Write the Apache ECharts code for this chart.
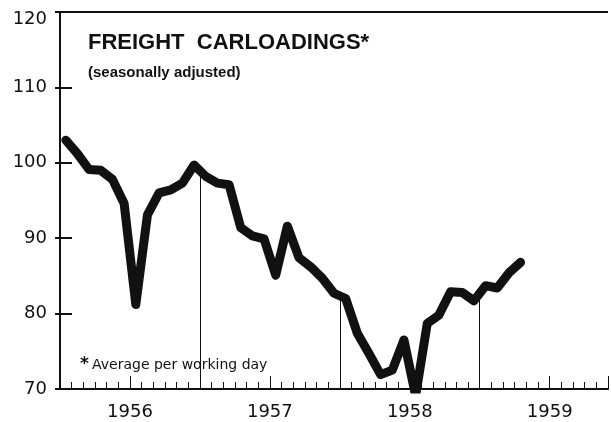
<!DOCTYPE html>
<html>
<head>
<meta charset="utf-8">
<script src="https://cdn.jsdelivr.net/npm/echarts@6/dist/echarts.min.js"></script>
<style>
  html, body { margin: 0; padding: 0; background: #fff; }
  #chart { width: 611px; height: 422px; }
</style>
</head>
<body>
<div id="chart"></div>
<script>
// monthly values, starting January 1956 (seasonally adjusted)
const years = ['1956', '1957', '1958', '1959'];
const carloadings = [
  103.0, 101.2, 99.1, 99.0, 97.8, 94.6, 81.2, 93.1, 96.0, 96.4, 97.3, 99.7,
  98.2, 97.3, 97.1, 91.4, 90.3, 89.9, 85.1, 91.6, 87.4, 86.2, 84.7, 82.7,
  82.0, 77.4, 74.7, 71.9, 72.5, 76.5, 69.1, 78.7, 79.8, 82.9, 82.8, 81.7,
  83.7, 83.4, 85.4, 86.8
];
const yMin = 70;
const yMax = 120;

const chart = echarts.init(document.getElementById('chart'));

const points = carloadings.map((v, i) => [i + 0.5, v]);

// thin vertical lines at each year end, from the base up to the curve
const yearEnds = [];
for (let m = 12; m < carloadings.length; m += 12) {
  const v = (carloadings[m - 1] + carloadings[m]) / 2;
  yearEnds.push([{ coord: [m, yMin] }, { coord: [m, v] }]);
}

const labelFont = 'DejaVu Sans';

const option = {
  animation: false,
  backgroundColor: '#fff',
  grid: { left: 60, right: 0, top: 12, bottom: 33 },
  graphic: [
    {
      type: 'text', left: 88, top: 32,
      style: { text: 'FREIGHT  CARLOADINGS*', font: 'bold 22px "Liberation Sans"', fill: '#111' }
    },
    {
      type: 'text', left: 88, top: 65,
      style: { text: '(seasonally adjusted)', font: 'bold 15px "Liberation Sans"', fill: '#111' }
    },
    {
      type: 'text', left: 80, top: 356,
      style: { text: '*', font: 'bold 17px "DejaVu Sans"', fill: '#111' }
    },
    {
      type: 'text', left: 92, top: 358,
      style: { text: 'Average per working day', font: '14px "DejaVu Sans"', fill: '#111' }
    }
  ],
  xAxis: [
    {
      type: 'value', min: 0, max: 47, interval: 1,
      axisLine: { show: true, lineStyle: { color: '#111', width: 2 } },
      axisTick: { show: true, inside: true, length: 7, lineStyle: { color: '#111', width: 1 } },
      axisLabel: { show: false },
      splitLine: { show: false }
    },
    {
      type: 'value', min: 0, max: 47, interval: 6, position: 'bottom',
      axisLine: { show: false },
      axisTick: { show: true, inside: true, length: 13, lineStyle: { color: '#111', width: 1 } },
      axisLabel: {
        margin: 14,
        fontFamily: labelFont, fontSize: 18, color: '#111',
        formatter: v => (v % 12 === 6 ? years[(v - 6) / 12] : '')
      },
      splitLine: { show: false }
    }
  ],
  yAxis: [
    {
      type: 'value', min: yMin, max: yMax, interval: 10,
      axisLine: { show: true, lineStyle: { color: '#111', width: 2 } },
      axisTick: { show: true, inside: true, length: 12, lineStyle: { color: '#111', width: 2 } },
      axisLabel: {
        margin: 13, fontFamily: labelFont, fontSize: 18, color: '#111',
        formatter: v => (v === yMax ? '{top|' + v + '}' : String(v)),
        rich: { top: { fontFamily: labelFont, fontSize: 18, color: '#111', padding: [14, 0, 0, 0] } }
      },
      splitLine: { show: false }
    },
    {
      type: 'value', min: yMin, max: yMax, interval: 10, position: 'right',
      axisLine: { show: false },
      axisTick: { show: true, inside: true, length: 5, lineStyle: { color: '#111', width: 2 } },
      axisLabel: { show: false },
      splitLine: { show: false }
    }
  ],
  series: [
    {
      type: 'line',
      data: [],
      z: 1,
      markLine: {
        silent: true,
        symbol: 'none',
        label: { show: false },
        lineStyle: { color: '#111', width: 1, type: 'solid' },
        data: yearEnds
      }
    },
    {
      type: 'line',
      data: [],
      z: 1,
      markLine: {
        silent: true,
        symbol: 'none',
        label: { show: false },
        lineStyle: { color: '#111', width: 2, type: 'solid' },
        data: [[{ coord: [0, yMax] }, { coord: [47, yMax] }]]
      }
    },
    {
      type: 'line',
      data: points,
      z: 3,
      showSymbol: false,
      lineStyle: { color: '#111', width: 9, cap: 'round', join: 'round' }
    }
  ]
};

chart.setOption(option);
</script>
</body>
</html>
